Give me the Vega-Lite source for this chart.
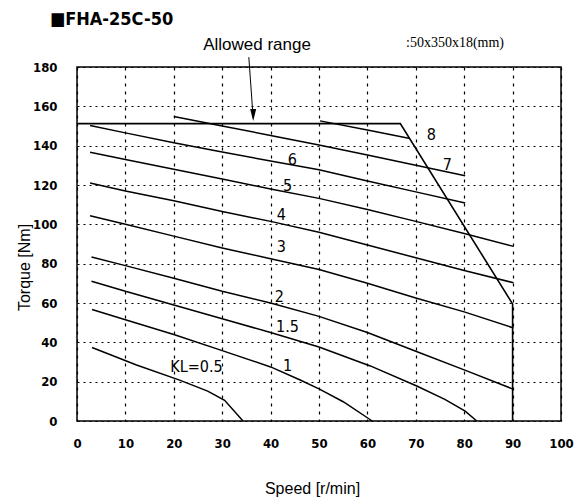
{
  "$schema": "https://vega.github.io/schema/vega-lite/v6.json",
  "width": 484,
  "height": 354,
  "autosize": {"type": "none"},
  "padding": {"left": 77, "top": 67, "right": 18, "bottom": 81},
  "background": "white",
  "config": {
    "view": {"stroke": "black", "strokeWidth": 1.5},
    "axis": {
      "labelFont": "Liberation Sans Narrow, DejaVu Sans Condensed, Roboto Condensed, sans-serif",
      "labelFontSize": 13,
      "labelFontWeight": "bold",
      "labelColor": "black",
      "labelFlush": false,
      "labelOverlap": false,
      "labelBound": false,
      "domain": false,
      "ticks": false,
      "grid": true,
      "gridColor": "black",
      "gridOpacity": 1,
      "gridWidth": 1.2,
      "titleFont": "Liberation Sans, Arial, sans-serif",
      "titleFontSize": 16,
      "titleFontWeight": "normal",
      "titleColor": "black"
    }
  },
  "datasets": {
    "curves": [
      {"kl": "0.5", "speed": 3.1, "torque": 37.4},
      {"kl": "0.5", "speed": 12.3, "torque": 28.5},
      {"kl": "0.5", "speed": 21.2, "torque": 20.8},
      {"kl": "0.5", "speed": 27, "torque": 15.2},
      {"kl": "0.5", "speed": 30.5, "torque": 10.5},
      {"kl": "0.5", "speed": 34.3, "torque": 0},
      {"kl": "1", "speed": 3.1, "torque": 56.7},
      {"kl": "1", "speed": 10, "torque": 51.5},
      {"kl": "1", "speed": 20, "torque": 44},
      {"kl": "1", "speed": 30, "torque": 35.8},
      {"kl": "1", "speed": 40, "torque": 27.5},
      {"kl": "1", "speed": 46, "torque": 21},
      {"kl": "1", "speed": 50, "torque": 16.3},
      {"kl": "1", "speed": 55, "torque": 9.8},
      {"kl": "1", "speed": 61, "torque": 0},
      {"kl": "1.5", "speed": 3, "torque": 71.1},
      {"kl": "1.5", "speed": 10, "torque": 66},
      {"kl": "1.5", "speed": 20, "torque": 59},
      {"kl": "1.5", "speed": 30, "torque": 52},
      {"kl": "1.5", "speed": 40, "torque": 45},
      {"kl": "1.5", "speed": 50, "torque": 37.6},
      {"kl": "1.5", "speed": 60.6, "torque": 28},
      {"kl": "1.5", "speed": 70.2, "torque": 17.8},
      {"kl": "1.5", "speed": 76, "torque": 11},
      {"kl": "1.5", "speed": 80.2, "torque": 5},
      {"kl": "1.5", "speed": 82.6, "torque": 0},
      {"kl": "2", "speed": 3, "torque": 83.4},
      {"kl": "2", "speed": 10, "torque": 79},
      {"kl": "2", "speed": 20, "torque": 72.6},
      {"kl": "2", "speed": 30, "torque": 66},
      {"kl": "2", "speed": 40, "torque": 60},
      {"kl": "2", "speed": 50, "torque": 53.2},
      {"kl": "2", "speed": 60, "torque": 45},
      {"kl": "2", "speed": 70, "torque": 35.5},
      {"kl": "2", "speed": 80, "torque": 26},
      {"kl": "2", "speed": 90.2, "torque": 16.1},
      {"kl": "3", "speed": 2.7, "torque": 104.4},
      {"kl": "3", "speed": 10, "torque": 100},
      {"kl": "3", "speed": 20, "torque": 94},
      {"kl": "3", "speed": 30, "torque": 88},
      {"kl": "3", "speed": 40, "torque": 82.5},
      {"kl": "3", "speed": 50, "torque": 77},
      {"kl": "3", "speed": 60, "torque": 70},
      {"kl": "3", "speed": 70, "torque": 62.5},
      {"kl": "3", "speed": 80, "torque": 55.5},
      {"kl": "3", "speed": 90.2, "torque": 47.3},
      {"kl": "4", "speed": 2.7, "torque": 121},
      {"kl": "4", "speed": 10, "torque": 117},
      {"kl": "4", "speed": 20, "torque": 112},
      {"kl": "4", "speed": 30, "torque": 106.5},
      {"kl": "4", "speed": 40, "torque": 101.5},
      {"kl": "4", "speed": 50, "torque": 96},
      {"kl": "4", "speed": 60, "torque": 89.5},
      {"kl": "4", "speed": 70, "torque": 83},
      {"kl": "4", "speed": 80, "torque": 76.5},
      {"kl": "4", "speed": 90.2, "torque": 70.3},
      {"kl": "5", "speed": 2.7, "torque": 136.6},
      {"kl": "5", "speed": 10, "torque": 133},
      {"kl": "5", "speed": 20, "torque": 128},
      {"kl": "5", "speed": 30, "torque": 123},
      {"kl": "5", "speed": 40, "torque": 118},
      {"kl": "5", "speed": 50, "torque": 113.2},
      {"kl": "5", "speed": 60, "torque": 107.5},
      {"kl": "5", "speed": 70, "torque": 101.5},
      {"kl": "5", "speed": 80, "torque": 95.3},
      {"kl": "5", "speed": 90.2, "torque": 88.8},
      {"kl": "6", "speed": 2.7, "torque": 150.3},
      {"kl": "6", "speed": 10, "torque": 146.5},
      {"kl": "6", "speed": 20, "torque": 141.5},
      {"kl": "6", "speed": 30, "torque": 136.8},
      {"kl": "6", "speed": 40, "torque": 132.2},
      {"kl": "6", "speed": 50, "torque": 127.7},
      {"kl": "6", "speed": 60, "torque": 122},
      {"kl": "6", "speed": 70, "torque": 116.5},
      {"kl": "6", "speed": 80.2, "torque": 110.8},
      {"kl": "7", "speed": 20, "torque": 154.8},
      {"kl": "7", "speed": 30, "torque": 150},
      {"kl": "7", "speed": 40, "torque": 145.2},
      {"kl": "7", "speed": 50, "torque": 140.3},
      {"kl": "7", "speed": 60, "torque": 135.2},
      {"kl": "7", "speed": 70, "torque": 130},
      {"kl": "7", "speed": 80.2, "torque": 124.7},
      {"kl": "8", "speed": 50.2, "torque": 152.6},
      {"kl": "8", "speed": 60, "torque": 148},
      {"kl": "8", "speed": 68.8, "torque": 143.6}
    ],
    "allowed": [
      {"seq": 1, "speed": 0, "torque": 151.2},
      {"seq": 2, "speed": 66.8, "torque": 151.2},
      {"seq": 3, "speed": 90, "torque": 59.5},
      {"seq": 4, "speed": 90, "torque": 0}
    ],
    "arrow": [
      {"seq": 1, "speed": 35.5, "torque": 185},
      {"seq": 2, "speed": 36.4, "torque": 154}
    ],
    "arrowhead": [
      {"speed": 36.4, "torque": 155.6}
    ],
    "labels": [
      {"speed": 73.2, "torque": 145.2, "text": "8"},
      {"speed": 76.5, "torque": 130, "text": "7"},
      {"speed": 44.5, "torque": 132.8, "text": "6"},
      {"speed": 43.5, "torque": 119.3, "text": "5"},
      {"speed": 42.2, "torque": 104.8, "text": "4"},
      {"speed": 42.2, "torque": 88.6, "text": "3"},
      {"speed": 41.8, "torque": 63, "text": "2"},
      {"speed": 43.5, "torque": 47.7, "text": "1.5"},
      {"speed": 43.5, "torque": 28.2, "text": "1"},
      {"speed": 24.7, "torque": 27.4, "text": "KL=0.5"}
    ],
    "heading": [
      {"speed": -5.6, "torque": 204, "text": "■FHA-25C-50"}
    ],
    "notes": [
      {"speed": 37.2, "torque": 191.2, "text": "Allowed range"}
    ],
    "notes2": [
      {"speed": 78.1, "torque": 192.2, "text": ":50x350x18(mm)"}
    ]
  },
  "encoding": {
    "x": {
      "field": "speed", "type": "quantitative",
      "scale": {"domain": [0, 100], "nice": false, "zero": false},
      "axis": {
        "values": [0, 10, 20, 30, 40, 50, 60, 70, 80, 90, 100],
        "labelOverlap": false,
        "gridDash": [3, 5],
        "labelPadding": 16,
        "title": "Speed [r/min]",
        "titleX": 235,
        "titleY": 72,
        "titleAlign": "center",
        "titleBaseline": "alphabetic"
      }
    },
    "y": {
      "field": "torque", "type": "quantitative",
      "scale": {"domain": [0, 180], "nice": false, "zero": false},
      "axis": {
        "values": [0, 20, 40, 60, 80, 100, 120, 140, 160, 180],
        "labelOverlap": false,
        "gridDash": [2, 4],
        "labelPadding": 20,
        "title": "Torque [Nm]",
        "titleX": -53,
        "titleY": 200,
        "titleAngle": -90,
        "titleAlign": "center",
        "titleBaseline": "middle"
      }
    }
  },
  "layer": [
    {
      "data": {"name": "curves"},
      "mark": {"type": "line", "color": "black", "strokeWidth": 1.5},
      "encoding": {
        "detail": {"field": "kl"},
        "order": {"field": "speed"}
      }
    },
    {
      "data": {"name": "allowed"},
      "mark": {"type": "line", "color": "black", "strokeWidth": 1.6},
      "encoding": {
        "order": {"field": "seq"}
      }
    },
    {
      "data": {"name": "arrow"},
      "mark": {"type": "line", "color": "black", "strokeWidth": 1},
      "encoding": {
        "order": {"field": "seq"}
      }
    },
    {
      "data": {"name": "arrowhead"},
      "mark": {"type": "point", "shape": "M-0.5,-1L0.5,-1L0,1Z", "size": 144, "filled": true, "color": "black", "opacity": 1}
    },
    {
      "data": {"name": "labels"},
      "mark": {"type": "text", "color": "black", "font": "Liberation Sans Narrow, DejaVu Sans Condensed, Roboto Condensed, sans-serif", "fontSize": 16, "align": "center", "baseline": "middle"},
      "encoding": {
        "text": {"field": "text"}
      }
    },
    {
      "data": {"name": "heading"},
      "mark": {"type": "text", "color": "black", "font": "Liberation Sans Narrow, DejaVu Sans Condensed, Roboto Condensed, sans-serif", "fontSize": 18, "fontWeight": "bold", "align": "left", "baseline": "middle"},
      "encoding": {
        "text": {"field": "text"}
      }
    },
    {
      "data": {"name": "notes"},
      "mark": {"type": "text", "color": "black", "font": "Liberation Sans, Arial, sans-serif", "fontSize": 17, "align": "center", "baseline": "middle"},
      "encoding": {
        "text": {"field": "text"}
      }
    },
    {
      "data": {"name": "notes2"},
      "mark": {"type": "text", "color": "black", "font": "Liberation Serif, DejaVu Serif, serif", "fontSize": 14, "align": "center", "baseline": "middle"},
      "encoding": {
        "text": {"field": "text"}
      }
    }
  ]
}
